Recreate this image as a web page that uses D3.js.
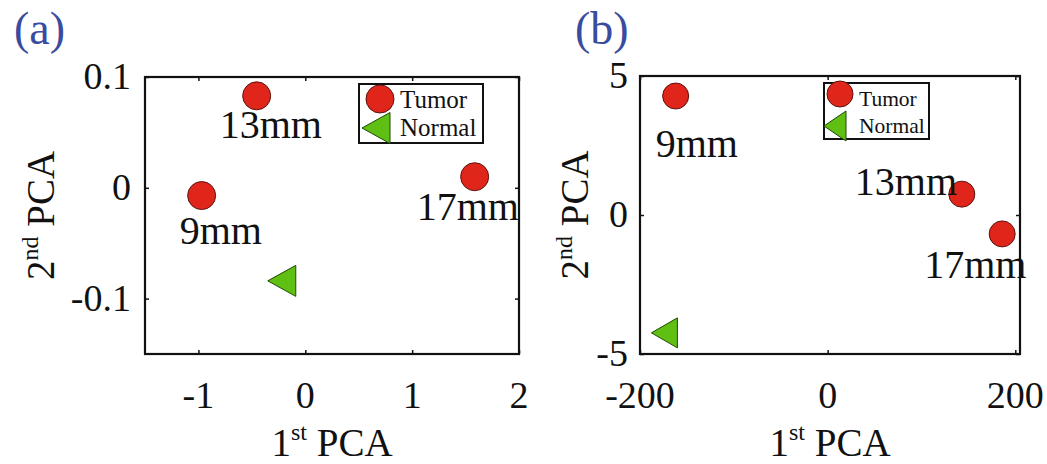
<!DOCTYPE html>
<html>

<head>
  <meta charset="utf-8">
  <script src="https://d3js.org/d3.v7.min.js"></script>
  <style>
    body { margin: 0; background: #fff; }
    text { font-family: "Liberation Serif", "Times New Roman", serif; fill: #111; }
  </style>
</head>

<body>
  <script>
    const width = 1047;
    const height = 464;

    // sample names (same for both panels)
    const sampleLabels = ["9mm", "13mm", "17mm"];

    // panel (a)
    const tumorAx = [-0.97, -0.455, 1.585];
    const tumorAy = [-0.007, 0.083, 0.010];
    const normalAx = [-0.22];
    const normalAy = [-0.084];
    const xTicksA = [-1, 0, 1, 2];
    const yTicksA = [-0.1, 0, 0.1];

    // panel (b)
    const tumorBx = [-162, 143, 186];
    const tumorBy = [4.28, 0.75, -0.68];
    const normalBx = [-174];
    const normalBy = [-4.24];
    const xTicksB = [-200, 0, 200];
    const yTicksB = [-5, 0, 5];

    const legendNames = ["Tumor", "Normal"];

    const red = "#e0261b", redEdge = "#5a1410";
    const green = "#5fbf12", greenEdge = "#1f4a05";

    const svg = d3.select("body").append("svg")
      .attr("width", width)
      .attr("height", height);

    // plain hyphen for negatives, like the original
    const fmt = d => (d < 0 ? "-" : "") + String(Math.abs(d));

    function triangle(g, cx, cy, w, h) {
      g.append("path")
        .attr("d", `M${cx - w / 2},${cy} L${cx + w / 2},${cy - h / 2} L${cx + w / 2},${cy + h / 2} Z`)
        .attr("fill", green)
        .attr("stroke", greenEdge)
        .attr("stroke-width", 1);
    }

    function drawPanel(p) {
      const g = svg.append("g");
      const x = d3.scaleLinear().domain(p.xDomain).range([p.left, p.right]);
      const y = d3.scaleLinear().domain(p.yDomain).range([p.bottom, p.top]);

      // inward ticks on all four sides
      const tl = 4;
      g.append("g").attr("transform", `translate(0,${p.bottom})`)
        .call(d3.axisBottom(x).tickValues(p.xTicks).tickSizeInner(-tl).tickSizeOuter(0).tickFormat(""));
      g.append("g").attr("transform", `translate(0,${p.top})`)
        .call(d3.axisTop(x).tickValues(p.xTicks).tickSizeInner(-tl).tickSizeOuter(0).tickFormat(""));
      g.append("g").attr("transform", `translate(${p.left},0)`)
        .call(d3.axisLeft(y).tickValues(p.yTicks).tickSizeInner(-tl).tickSizeOuter(0).tickFormat(""));
      g.append("g").attr("transform", `translate(${p.right},0)`)
        .call(d3.axisRight(y).tickValues(p.yTicks).tickSizeInner(-tl).tickSizeOuter(0).tickFormat(""));
      g.selectAll(".domain").remove();
      g.selectAll(".tick line").attr("stroke", "#111").attr("stroke-width", 1.5);

      g.append("rect")
        .attr("x", p.left).attr("y", p.top)
        .attr("width", p.right - p.left).attr("height", p.bottom - p.top)
        .attr("fill", "none").attr("stroke", "#111").attr("stroke-width", 2.2);

      // tick labels
      g.selectAll(".xl").data(p.xTicks).enter().append("text")
        .attr("x", d => x(d)).attr("y", 408)
        .attr("text-anchor", "middle").attr("font-size", 38)
        .text(fmt);
      g.selectAll(".yl").data(p.yTicks).enter().append("text")
        .attr("x", p.left - p.yLabelGap).attr("y", d => y(d) + 12)
        .attr("text-anchor", "end").attr("font-size", 38)
        .text(fmt);

      // axis titles
      const xt = g.append("text")
        .attr("x", (p.left + p.right) / 2).attr("y", 456)
        .attr("text-anchor", "middle").attr("font-size", 39);
      xt.append("tspan").text("1");
      xt.append("tspan").attr("font-size", 24).attr("dy", -16).text("st");
      xt.append("tspan").attr("dy", 16).text(" PCA");

      const yt = g.append("text")
        .attr("transform", `translate(${p.yTitleX},${(p.top + p.bottom) / 2}) rotate(-90)`)
        .attr("text-anchor", "middle").attr("font-size", 39);
      yt.append("tspan").text("2");
      yt.append("tspan").attr("font-size", 24).attr("dy", -16).text("nd");
      yt.append("tspan").attr("dy", 16).text(" PCA");

      // panel tag
      g.append("text")
        .attr("x", p.tagX).attr("y", 44)
        .attr("font-size", 46).style("fill", "#3a4ca0")
        .text(p.tag);

      // tumor points
      g.selectAll(".pt").data(p.tx).enter().append("circle")
        .attr("cx", d => x(d)).attr("cy", (d, i) => y(p.ty[i]))
        .attr("r", p.r)
        .attr("fill", red).attr("stroke", redEdge).attr("stroke-width", 1);

      g.selectAll(".lab").data(sampleLabels).enter().append("text")
        .attr("x", (d, i) => x(p.tx[i]) + p.labelOff[i][0])
        .attr("y", (d, i) => y(p.ty[i]) + p.labelOff[i][1])
        .attr("font-size", 40)
        .text(d => d);

      // normal points
      p.nx.forEach((d, i) => triangle(g, x(d), y(p.ny[i]), p.triW, p.triH));

      // legend
      const L = p.legend;
      g.append("rect")
        .attr("x", L.x).attr("y", L.y).attr("width", L.w).attr("height", L.h)
        .attr("fill", "#fff").attr("stroke", "#111").attr("stroke-width", 2);
      g.append("circle")
        .attr("cx", L.x + L.mx).attr("cy", L.y + L.row1)
        .attr("r", p.r)
        .attr("fill", red).attr("stroke", redEdge).attr("stroke-width", 1);
      triangle(g, L.x + L.tmx, L.y + L.row2, L.triW, p.triH);
      g.selectAll(".lg").data(legendNames).enter().append("text")
        .attr("x", L.x + L.tx)
        .attr("y", (d, i) => L.y + (i === 0 ? L.t1 : L.t2))
        .attr("font-size", L.fs)
        .text(d => d);
    }

    drawPanel({
      tag: "(a)", tagX: 14,
      xDomain: [-1.5, 2], yDomain: [-0.15, 0.1],
      left: 145, right: 519, top: 77, bottom: 354,
      xTicks: xTicksA, yTicks: yTicksA,
      yLabelGap: 14, yTitleX: 54,
      tx: tumorAx, ty: tumorAy, nx: normalAx, ny: normalAy,
      r: 14, triW: 28, triH: 31,
      labelOff: [[-22, 48], [-37, 42], [-58, 43]],
      legend: { x: 359, y: 84, w: 124, h: 59, mx: 21, tmx: 17, triW: 28, row1: 15, row2: 44, tx: 41, t1: 24, t2: 52, fs: 25 }
    });

    drawPanel({
      tag: "(b)", tagX: 575,
      xDomain: [-200, 205], yDomain: [-5, 5],
      left: 640, right: 1020, top: 76, bottom: 354,
      xTicks: xTicksB, yTicks: yTicksB,
      yLabelGap: 12, yTitleX: 588,
      tx: tumorBx, ty: tumorBy, nx: normalBx, ny: normalBy,
      r: 13, triW: 26, triH: 30,
      labelOff: [[-20, 61], [-107, 1], [-78, 44]],
      legend: { x: 824, y: 83, w: 105, h: 56, mx: 16, tmx: 11, triW: 22, row1: 11, row2: 43, tx: 35, t1: 23, t2: 50, fs: 21.5 }
    });
  </script>
</body>

</html>
